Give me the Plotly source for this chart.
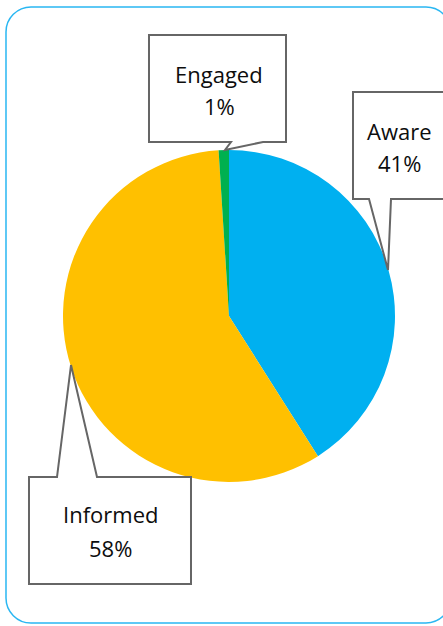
import plotly.graph_objects as go

labels = ["Aware", "Informed", "Engaged"]
values = [41, 58, 1]
colors = ["#00B0F0", "#FFC000", "#00B050"]

W, H = 443, 626

def px(x, y):
    return x / W, 1 - y / H

def pt(x, y):
    X, Y = px(x, y)
    return f"{X:.5f},{Y:.5f}"

def path(points):
    s = ""
    for i, (x, y) in enumerate(points):
        s += ("M" if i == 0 else "L") + pt(x, y) + " "
    return s + "Z"

fig = go.Figure()
x0, y0 = px(63, 482)
x1, y1 = px(395, 150)
fig.add_trace(go.Pie(
    labels=labels, values=values, sort=False, direction="clockwise", rotation=0,
    marker=dict(colors=colors, line=dict(width=0)),
    textinfo="none", hoverinfo="label+percent", showlegend=False,
    domain=dict(x=[x0, x1], y=[y0, y1]),
))

total = sum(values)
pct = [f"{round(v / total * 100)}%" for v in values]

# callout boxes (px coords)
callouts = {
    "Engaged": [(149, 35), (286, 35), (286, 142), (263, 142), (225, 150), (231, 142), (149, 142)],
    "Aware": [(353, 92), (446, 92), (446, 199), (391, 199), (388, 270), (369, 199), (353, 199)],
    "Informed": [(29, 477), (57, 477), (71, 365), (97, 477), (191, 477), (191, 584), (29, 584)],
}
# (center x, line1 y, line2 y)
text_pos = {"Engaged": (219, 74, 106.5), "Aware": (399.5, 130.5, 162.5), "Informed": (110, 514, 547.5)}

shapes = []
r = 25
k = 0.5523 * r
L, T, R, B = 6, 7, 451, 623
frame = (f"M{pt(L + r, T)} L{pt(R - r, T)} "
         f"C{pt(R - r + k, T)} {pt(R, T + r - k)} {pt(R, T + r)} "
         f"L{pt(R, B - r)} C{pt(R, B - r + k)} {pt(R - r + k, B)} {pt(R - r, B)} "
         f"L{pt(L + r, B)} C{pt(L + r - k, B)} {pt(L, B - r + k)} {pt(L, B - r)} "
         f"L{pt(L, T + r)} C{pt(L, T + r - k)} {pt(L + r - k, T)} {pt(L + r, T)} Z")
shapes.append(dict(type="path", xref="paper", yref="paper", path=frame,
                   line=dict(color="#2AB7F2", width=1.5), layer="below"))
for name, pts in callouts.items():
    shapes.append(dict(type="path", xref="paper", yref="paper", path=path(pts),
                       fillcolor="white", line=dict(color="#666666", width=2), layer="above"))

annotations = []
for lab, p in zip(labels, pct):
    tx, ty1, ty2 = text_pos[lab]
    for txt, ty in ((lab, ty1), (p, ty2)):
        X, Y = px(tx, ty)
        annotations.append(dict(x=X, y=Y, xref="paper", yref="paper", showarrow=False,
                                xanchor="center", yanchor="middle", text=txt,
                                font=dict(family="Open Sans", size=22, color="#0D0D0D")))

fig.update_layout(
    width=W, height=H, margin=dict(l=0, r=0, t=0, b=0),
    paper_bgcolor="white", plot_bgcolor="white",
    shapes=shapes, annotations=annotations,
)
fig.write_html("out.html", config={"displayModeBar": False},
               post_script="document.body.style.margin='0';document.body.style.overflow='hidden';")
